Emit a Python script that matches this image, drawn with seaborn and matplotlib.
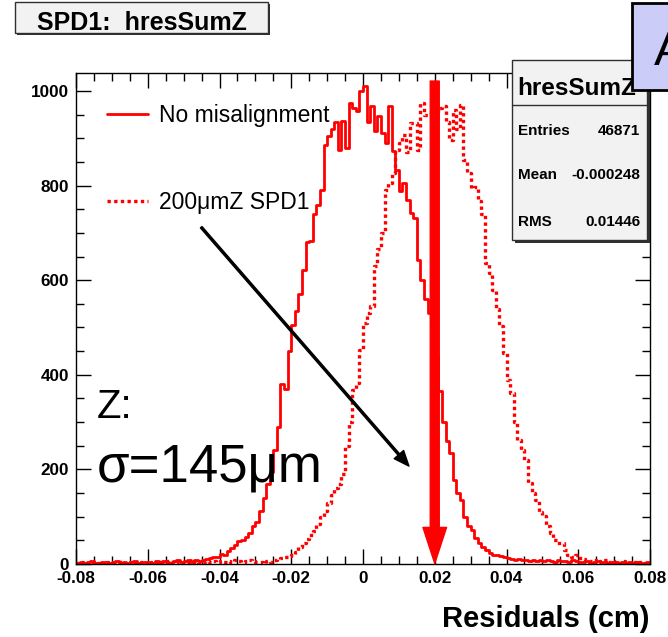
import numpy as np
import pandas as pd
import matplotlib
matplotlib.use("Agg")
import matplotlib.pyplot as plt
import seaborn as sns
from matplotlib.patches import Rectangle, FancyArrowPatch
from matplotlib.lines import Line2D
from matplotlib.ticker import MultipleLocator

# ---------------- data ----------------
bin_low = -0.08
bin_high = 0.08
n_bins = 160

no_misalignment = [
    3, 5, 2, 4, 6, 3, 2, 5, 4, 3,
    4, 6, 3, 5, 2, 4, 7, 3, 5, 4,
    5, 3, 6, 4, 7, 5, 3, 6, 8, 5,
    6, 8, 5, 9, 7, 8, 10, 12, 15, 14,
    22, 18, 28, 33, 40, 48, 50, 58, 65, 80,
    88, 112, 140, 170, 195, 240, 290, 380, 370, 450,
    505, 535, 570, 622, 680, 683, 740, 760, 790, 885,
    905, 920, 935, 875, 937, 880, 975, 965, 958, 1000,
    1011, 935, 968, 915, 947, 911, 890, 968, 873, 833,
    789, 805, 770, 742, 731, 643, 600, 560, 531, 500,
    440, 366, 300, 260, 235, 178, 150, 135, 100, 80,
    72, 55, 45, 36, 30, 23, 20, 18, 16, 15,
    12, 10, 9, 11, 8, 9, 6, 8, 7, 9,
    6, 8, 7, 5, 9, 6, 7, 5, 8, 6,
    5, 4, 6, 3, 5, 7, 4, 5, 3, 4,
    4, 3, 5, 2, 4, 3, 5, 3, 2, 4,
]

misalign_200um_spd1 = [
    2, 4, 1, 3, 5, 2, 3, 1, 4, 2,
    3, 2, 5, 3, 1, 4, 2, 3, 5, 2,
    4, 3, 2, 5, 3, 6, 4, 3, 5, 4,
    3, 5, 4, 6, 3, 5, 7, 4, 6, 5,
    6, 4, 7, 5, 8, 6, 5, 7, 9, 6,
    4, 5, 3, 6, 5, 8, 10, 12, 14, 17,
    20, 26, 36, 44, 52, 62, 70, 85, 100, 112,
    130, 145, 160, 170, 190, 250, 300, 368, 383, 452,
    510, 531, 545, 630, 665, 700, 790, 805, 827, 875,
    890, 907, 872, 932, 932, 875, 975, 950, 949, 960,
    955, 965, 968, 935, 896, 960, 920, 970, 854, 827,
    795, 797, 767, 740, 636, 615, 579, 540, 503, 446,
    389, 362, 300, 262, 240, 220, 171, 150, 135, 110,
    101, 80, 66, 50, 44, 44, 30, 19, 15, 19,
    12, 10, 8, 7, 9, 5, 6, 8, 4, 6,
    5, 3, 6, 4, 2, 5, 3, 4, 2, 3,
]

series_labels = ["No misalignment", "200\u03bcmZ SPD1"]
x_ticks = [-0.08, -0.06, -0.04, -0.02, 0.0, 0.02, 0.04, 0.06, 0.08]
x_tick_labels = ["-0.08", "-0.06", "-0.04", "-0.02", "0", "0.02", "0.04", "0.06", "0.08"]
y_ticks = [0, 200, 400, 600, 800, 1000]
y_tick_labels = ["0", "200", "400", "600", "800", "1000"]
stats_names = ["Entries", "Mean", "RMS"]
stats_values = ["46871", "-0.000248", "0.01446"]

# ---------------- figure ----------------
W, H = 668, 637
sns.set_style("ticks")
plt.rcParams['font.family'] = ['Liberation Sans', 'DejaVu Sans']
plt.rcParams.update({"text.color": "black", "axes.labelcolor": "black",
                     "xtick.color": "black", "ytick.color": "black",
                     "axes.edgecolor": "black"})

def fx(px):
    return px / W

def fy(py):
    return 1 - py / H

fig = plt.figure(figsize=(W / 100, H / 100), dpi=100)
fig.patch.set_facecolor("white")
ax = fig.add_axes([fx(76), fy(564), (650 - 76) / W, (564 - 73) / H])

edges = np.linspace(bin_low, bin_high, n_bins + 1)
centers = 0.5 * (edges[:-1] + edges[1:])
df = pd.DataFrame({"residual": centers,
                   "nomis": no_misalignment,
                   "mis200": misalign_200um_spd1})

sns.histplot(data=df, x="residual", weights="nomis", bins=n_bins,
             binrange=(bin_low, bin_high), element="step",
             fill=False, color="red", linewidth=2, ax=ax)
sns.histplot(data=df, x="residual", weights="mis200", bins=n_bins,
             binrange=(bin_low, bin_high), element="step",
             fill=False, color="red", linewidth=2.4, linestyle=(0, (1, 1)), ax=ax)

ax.set_xlim(bin_low, bin_high)
ax.set_ylim(0, 1038)
ax.set_ylabel("")
ax.set_xticks(x_ticks)
ax.set_xticklabels(x_tick_labels, fontsize=12.3, fontweight="bold")
ax.set_yticks(y_ticks)
ax.set_yticklabels(y_tick_labels, fontsize=12.3, fontweight="bold")
ax.xaxis.set_minor_locator(MultipleLocator(0.005))
ax.yaxis.set_minor_locator(MultipleLocator(50))
ax.tick_params(which="both", direction="in", top=True, right=True, color="black",
               labelcolor="black", width=1)
ax.tick_params(which="major", length=11, pad=5)
ax.tick_params(which="minor", length=5.5)
for s in ax.spines.values():
    s.set_color("black")
    s.set_linewidth(1)
ax.set_xlabel("Residuals (cm)", loc="right", fontsize=21, fontweight="bold",
              labelpad=14, color="black")

# legend
handles = [Line2D([], [], color="red", lw=2),
           Line2D([], [], color="red", lw=2.4, linestyle=(0, (1, 1)))]
leg = ax.legend(handles, series_labels, loc="upper left",
                bbox_to_anchor=((107 - 76) / 574, (564 - 104) / 491),
                frameon=False, fontsize=16.5, handlelength=1.8, handletextpad=0.45,
                labelspacing=2.8, borderpad=0, borderaxespad=0)
for t in leg.get_texts():
    t.set_color("black")

# red arrow at 0.02
red_arrow = FancyArrowPatch((0.02, 1021), (0.02, 1),
                            arrowstyle="simple,head_length=26,head_width=17,tail_width=6.5",
                            mutation_scale=1, color="red", shrinkA=0, shrinkB=0,
                            zorder=5)
ax.add_patch(red_arrow)

# black arrow
black_arrow = FancyArrowPatch((-0.0451, 712), (0.0128, 207),
                              arrowstyle="simple,head_length=11,head_width=9,tail_width=1.5",
                              mutation_scale=1, color="black", shrinkA=0, shrinkB=0,
                              zorder=5)
ax.add_patch(black_arrow)

# big annotation text
fig.text(fx(97), fy(418), "Z:", fontsize=29, va="baseline", ha="left", color="black")
fig.text(fx(97), fy(482), "\u03c3=145\u03bcm", fontsize=38, va="baseline", ha="left",
         color="black")

# title box
fig.add_artist(Rectangle((fx(17), fy(35)), fx(268) - fx(15), fy(2) - fy(33),
                         transform=fig.transFigure, facecolor="#303030",
                         edgecolor="none", zorder=8))
fig.add_artist(Rectangle((fx(15), fy(33)), fx(268) - fx(15), fy(2) - fy(33),
                         transform=fig.transFigure, facecolor="#f2f2f2",
                         edgecolor="#303030", linewidth=1, zorder=9))
fig.text(fx(142), fy(30), "SPD1:  hresSumZ", fontsize=18, fontweight="bold",
         ha="center", va="baseline", zorder=10, color="black")

# stats box
fig.add_artist(Rectangle((fx(515), fy(243)), fx(647) - fx(512), fy(60) - fy(240),
                         transform=fig.transFigure, facecolor="#303030",
                         edgecolor="none", zorder=8))
fig.add_artist(Rectangle((fx(512), fy(240)), fx(647) - fx(512), fy(60) - fy(240),
                         transform=fig.transFigure, facecolor="#f2f2f2",
                         edgecolor="#303030", linewidth=1, zorder=9))
fig.add_artist(Line2D([fx(512), fx(647)], [fy(105), fy(105)],
                      transform=fig.transFigure, color="#303030", lw=1, zorder=10))
fig.text(fx(517), fy(95), "hresSumZ", fontsize=17.5, fontweight="bold",
         ha="left", va="baseline", zorder=10, color="black")
for name, val, base in zip(stats_names, stats_values, [135, 179, 226]):
    fig.text(fx(518), fy(base), name, fontsize=11, fontweight="bold",
             ha="left", va="baseline", zorder=10, color="black")
    fig.text(fx(640), fy(base), val, fontsize=11, fontweight="bold",
             ha="right", va="baseline", zorder=10, color="black")

# partially visible lavender box (top right)
fig.add_artist(Rectangle((fx(632), fy(90)), fx(720) - fx(632), fy(3) - fy(90),
                         transform=fig.transFigure, facecolor="#ccccf8",
                         edgecolor="black", linewidth=2, zorder=11))
fig.text(fx(654), fy(65), "A", fontsize=35, ha="left", va="baseline",
         zorder=12, color="black")

fig.savefig("out.png", dpi=100, facecolor="white")
